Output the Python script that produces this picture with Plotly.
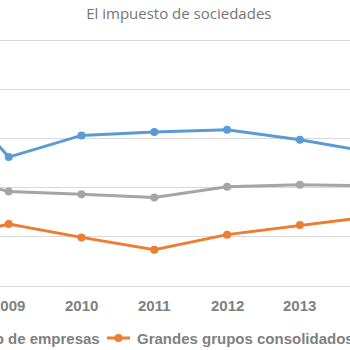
import plotly.graph_objects as go

years = [2008, 2009, 2010, 2011, 2012, 2013, 2014]
conjunto = [21.5, 13.15, 15.36, 15.7, 15.94, 14.92, 13.63]
grandes = [4.56, 6.32, 4.96, 3.71, 5.24, 6.22, 7.1]
resto = [11.5, 9.65, 9.35, 9.04, 10.13, 10.34, 10.21]
names = ["Conjunto de empresas", "Grandes grupos consolidados", "Resto de empresas"]
colors = ["#5B9BD5", "#ED7D31", "#A5A5A5"]

W, H = 350, 350
ML, MR, MT, MB = 0, 0, 37, 64
PH = H - MT - MB
XR = [2008.8805, 2013.688]

fig = go.Figure()
for name, vals, c in zip(names, [conjunto, grandes, resto], colors):
    fig.add_trace(go.Scatter(x=years, y=vals, name=name, mode="lines+markers",
                             line=dict(color=c, width=3), marker=dict(color=c, size=8),
                             showlegend=False))

tick_font = dict(family="Liberation Sans", size=15, color="#808080", weight="bold")
# category labels under the axis (as annotations so edge labels are kept partially visible)
tly = (H - MB - 305.7) / PH
for yr in years:
    if XR[0] <= yr <= XR[1]:
        fig.add_annotation(x=yr, y=tly, xref="x", yref="paper", text=str(yr),
                           showarrow=False, xanchor="center", yanchor="middle", font=tick_font)

# manual legend (horizontal, partly outside the visible window as in the reference)
leg_font = dict(family="Liberation Sans", size=15, color="#808080", weight="bold")
ly = (H - MB - 338) / PH
def px(x):
    return x / W
items = [
    (names[0], colors[0], -153, "right", 102),
    (names[1], colors[1], 107, "left", 135),
    (names[2], colors[2], 357, "left", 385),
]
for name, c, lx, anchor, tx in items:
    fig.add_annotation(x=px(tx), y=ly, xref="paper", yref="paper", text=name,
                       showarrow=False, xanchor=anchor, yanchor="middle", font=leg_font)
    if anchor == "left":
        fig.add_shape(type="line", xref="paper", yref="paper", x0=px(lx), x1=px(lx + 23),
                      y0=ly, y1=ly, line=dict(color=c, width=3))
        cx = lx + 11.5
        fig.add_shape(type="circle", xref="paper", yref="paper",
                      x0=px(cx - 4), x1=px(cx + 4), y0=ly - 4 / PH, y1=ly + 4 / PH,
                      fillcolor=c, line=dict(color=c, width=0))

fig.update_layout(
    width=W, height=H,
    margin=dict(l=ML, r=MR, t=MT, b=MB),
    paper_bgcolor="white", plot_bgcolor="white",
    showlegend=False,
    title=dict(text="El impuesto de sociedades", x=0.511, xanchor="center",
               y=1 - 14 / H, yanchor="middle", yref="container",
               font=dict(family="Open Sans", size=15, color="#757575")),
    xaxis=dict(range=XR, showticklabels=False, showgrid=False, zeroline=False,
               showline=True, linecolor="#D9D9D9", linewidth=1, ticks=""),
    yaxis=dict(range=[0, 25.4], tickmode="array", tickvals=[5, 10, 15, 20, 25],
               showgrid=True, gridcolor="#D9D9D9", gridwidth=1,
               zeroline=False, showticklabels=False, showline=False),
)
fig.write_html("out.html")
